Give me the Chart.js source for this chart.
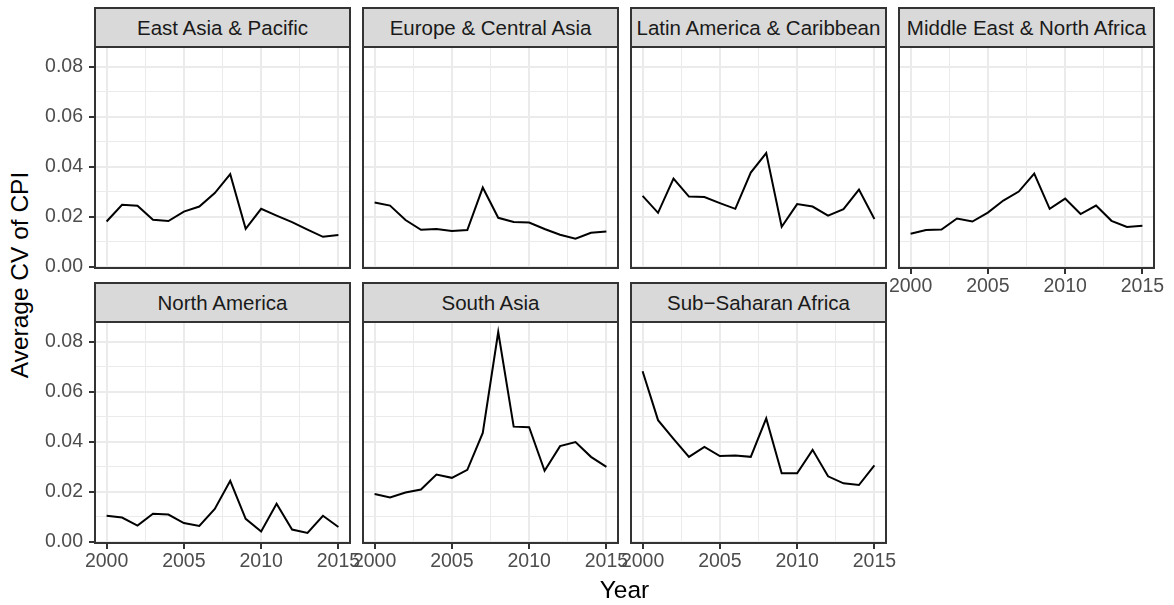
<!DOCTYPE html>
<html><head><meta charset="utf-8">
<script src="https://cdn.jsdelivr.net/npm/chart.js@4.4.1/dist/chart.umd.min.js"></script>
<style>
html,body{margin:0;padding:0;background:#fff;}
#wrap{position:relative;width:1174px;height:605px;overflow:hidden;font-family:"Liberation Sans",Arial,Helvetica,sans-serif;background:#fff;}
canvas{position:absolute;}
.strip{position:absolute;box-sizing:border-box;background:#D9D9D9;border:2px solid #333333;color:#1A1A1A;font-size:20.5px;display:flex;align-items:center;justify-content:center;white-space:nowrap;overflow:hidden;}
.title{position:absolute;color:#000;font-size:24.5px;white-space:nowrap;line-height:24.5px;}
</style></head><body><div id="wrap"></div>
<script>
const years = [2000,2001,2002,2003,2004,2005,2006,2007,2008,2009,2010,2011,2012,2013,2014,2015];
const regions = ["East Asia & Pacific","Europe & Central Asia","Latin America & Caribbean","Middle East & North Africa","North America","South Asia","Sub\u2212Saharan Africa"];
const eastAsiaPacific   = [0.0181,0.0248,0.0244,0.0188,0.0183,0.0221,0.0241,0.0295,0.0371,0.0152,0.0232,0.0205,0.0179,0.0149,0.0120,0.0127];
const europeCentralAsia = [0.0257,0.0245,0.0187,0.0148,0.0151,0.0143,0.0147,0.0317,0.0196,0.0179,0.0177,0.0151,0.0128,0.0112,0.0136,0.0141];
const latinAmerica      = [0.0284,0.0216,0.0353,0.0281,0.0279,0.0255,0.0232,0.0377,0.0455,0.0160,0.0251,0.0241,0.0205,0.0231,0.0309,0.0191];
const middleEast        = [0.0132,0.0147,0.0149,0.0193,0.0181,0.0217,0.0265,0.0301,0.0373,0.0232,0.0273,0.0211,0.0245,0.0184,0.0159,0.0164];
const northAmerica      = [0.0104,0.0097,0.0065,0.0112,0.0109,0.0075,0.0063,0.0131,0.0244,0.0092,0.0041,0.0152,0.0049,0.0035,0.0104,0.0059];
const southAsia         = [0.0191,0.0177,0.0197,0.0209,0.0269,0.0256,0.0288,0.0436,0.0840,0.0461,0.0459,0.0284,0.0383,0.0399,0.0340,0.0300];
const subSaharanAfrica  = [0.0683,0.0487,0.0412,0.0340,0.0380,0.0343,0.0345,0.0340,0.0494,0.0274,0.0274,0.0368,0.0262,0.0234,0.0227,0.0306];
const seriesList = [eastAsiaPacific,europeCentralAsia,latinAmerica,middleEast,northAmerica,southAsia,subSaharanAfrica];
const yMajorTicks = [0,0.02,0.04,0.06,0.08];
const yMinorTicks = [0.01,0.03,0.05,0.07];
const xMajorTicks = [2000,2005,2010,2015];
const xMinorTicks = [2002.5,2007.5,2012.5];
const xTitle = "Year";
const yTitle = "Average CV of CPI";

const FONT = '"Liberation Sans", Arial, Helvetica, sans-serif';
const wrap = document.getElementById('wrap');
const PANEL_W = 255, PANEL_H = 221, PITCH = 268, LEFT0 = 95;
const ROW_TOP = [47, 322];
const AX_W = 60, AX_H = 40, PAD_T = 12, PAD_R = 30;

const borderPlugin = {
  id: 'panelBorder',
  afterDraw(chart) {
    const {ctx, chartArea: a} = chart;
    ctx.save();
    ctx.strokeStyle = '#333333';
    ctx.lineWidth = 2;
    ctx.strokeRect(a.left, a.top, a.right - a.left, a.bottom - a.top);
    ctx.restore();
  }
};

function isMajor(list, v) { return list.some(m => Math.abs(m - v) < 1e-9); }

function makePanel(idx) {
  const col = idx % 4, row = Math.floor(idx / 4);
  const showY = col === 0;
  const showX = row === 1 || col === 3;
  const plotLeft = LEFT0 + PITCH * col, plotTop = ROW_TOP[row];

  const strip = document.createElement('div');
  strip.className = 'strip';
  strip.style.left = (plotLeft - 1) + 'px';
  strip.style.top = (plotTop - 40) + 'px';
  strip.style.width = (PANEL_W + 2) + 'px';
  strip.style.height = '41px';
  strip.textContent = regions[idx];

  const canvas = document.createElement('canvas');
  canvas.width = AX_W + PANEL_W + PAD_R;
  canvas.height = PAD_T + PANEL_H + AX_H;
  canvas.style.left = (plotLeft - AX_W) + 'px';
  canvas.style.top = (plotTop - PAD_T) + 'px';
  wrap.appendChild(canvas);
  wrap.appendChild(strip);

  const values = seriesList[idx];
  new Chart(canvas, {
    type: 'line',
    data: { datasets: [{ data: years.map((y, i) => ({x: y, y: values[i]})), borderColor: '#000000', borderWidth: 2, pointRadius: 0, fill: false, tension: 0 }] },
    options: {
      responsive: false, animation: false, devicePixelRatio: 1, events: [],
      layout: { padding: { top: PAD_T, right: PAD_R, bottom: 0, left: 0 } },
      plugins: { legend: { display: false }, tooltip: { enabled: false } },
      scales: {
        x: {
          type: 'linear', min: 1999.25, max: 2015.75,
          afterBuildTicks: s => { s.ticks = xMajorTicks.concat(xMinorTicks).sort((a,b)=>a-b).map(v => ({value: v})); },
          afterFit: s => { s.height = AX_H; s.paddingLeft = 0; s.paddingRight = 0; },
          ticks: { display: showX, autoSkip: false, maxRotation: 0, minRotation: 0, padding: 1, color: '#4D4D4D', font: { family: FONT, size: 19.5 },
                   callback: v => isMajor(xMajorTicks, v) ? String(v) : '' },
          grid: { color: '#EBEBEB', lineWidth: c => (c.tick && isMajor(xMajorTicks, c.tick.value)) ? 2 : 1,
                  drawTicks: showX, tickLength: 6,
                  tickColor: c => (c.tick && isMajor(xMajorTicks, c.tick.value)) ? '#333333' : 'rgba(0,0,0,0)', tickWidth: 2 },
          border: { display: false }
        },
        y: {
          type: 'linear', min: -0.0005, max: 0.088,
          afterBuildTicks: s => { s.ticks = yMajorTicks.concat(yMinorTicks).sort((a,b)=>a-b).map(v => ({value: v})); },
          afterFit: s => { s.width = AX_W; s.paddingTop = 0; s.paddingBottom = 0; },
          ticks: { display: showY, autoSkip: false, padding: 6, color: '#4D4D4D', font: { family: FONT, size: 19.5 },
                   callback: v => isMajor(yMajorTicks, v) ? v.toFixed(2) : '' },
          grid: { color: '#EBEBEB', lineWidth: c => (c.tick && isMajor(yMajorTicks, c.tick.value)) ? 2 : 1,
                  drawTicks: showY, tickLength: 6,
                  tickColor: c => (c.tick && isMajor(yMajorTicks, c.tick.value)) ? '#333333' : 'rgba(0,0,0,0)', tickWidth: 2 },
          border: { display: false }
        }
      }
    },
    plugins: [borderPlugin]
  });
}

for (let i = 0; i < regions.length; i++) makePanel(i);

const xt = document.createElement('div');
xt.className = 'title';
xt.textContent = xTitle;
xt.style.left = '0px'; xt.style.width = (2 * 624.5) + 'px'; xt.style.textAlign = 'center';
xt.style.top = '578px';
wrap.appendChild(xt);

const yt = document.createElement('div');
yt.className = 'title';
yt.textContent = yTitle;
yt.style.left = '20px'; yt.style.top = '275px';
yt.style.transform = 'translate(-50%,-50%) rotate(-90deg)';
wrap.appendChild(yt);
</script></body></html>
